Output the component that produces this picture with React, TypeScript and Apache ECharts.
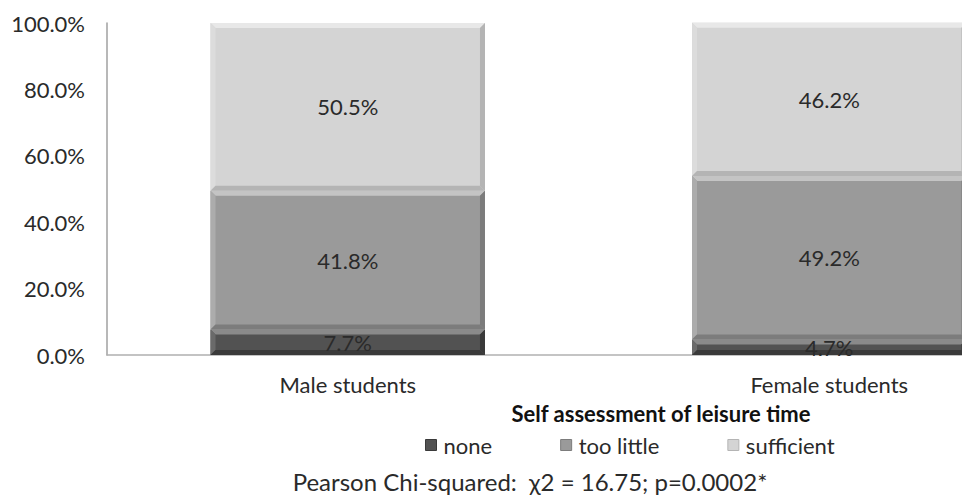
import React, { useEffect, useRef } from "react";
import * as echarts from "echarts";

// Share of students (%) by self-assessed amount of leisure time
const categories = ["Male students", "Female students"];
const seriesNames = ["none", "too little", "sufficient"];
const noneValues = [7.7, 4.7];
const tooLittleValues = [41.8, 49.2];
const sufficientValues = [50.5, 46.2];
const yTicks = [0, 20, 40, 60, 80, 100];

const axisTitle = "Self assessment of leisure time";
const footnote = "Pearson Chi-squared:  \u03c72 = 16.75; p=0.0002*";

const FONT = "Lato, 'Open Sans', sans-serif";
const FS = 22;

// body / top bevel / bottom-right bevel / left bevel shades per segment
const palette = [
  { body: "#525252", top: "#8a8a8a", dark: "#3a3a3a", left: "#6a6a6a" },
  { body: "#9a9a9a", top: "#c4c4c4", dark: "#7c7c7c", left: "#acacac" },
  { body: "#d4d4d4", top: "#e8e8e8", dark: "#b4b4b4", left: "#dcdcdc" },
];

function App() {
  const ref = useRef<HTMLDivElement>(null);

  useEffect(() => {
    if (!ref.current) return;
    const chart = echarts.init(ref.current, undefined, { renderer: "svg" });

    const valueSets = [noneValues, tooLittleValues, sufficientValues];

    // segment rows: [category index, stack start, stack end, value]
    const segmentData = valueSets.map((vals, s) =>
      vals.map((v, i) => {
        let start = 0;
        for (let k = 0; k < s; k++) start += valueSets[k][i];
        return [i, start, start + v, v];
      })
    );

    const makeRender = (s: number) => (params: any, api: any) => {
      const cat = api.value(0);
      const start = api.value(1);
      const end = api.value(2);
      const val = api.value(3);
      const p0 = api.coord([cat, start]);
      const p1 = api.coord([cat, end]);
      const bandW = api.size([1, 0])[0];
      const w = bandW * 0.57;
      const x = p0[0] - w / 2;
      const yTop = p1[1];
      const yBot = p0[1];
      const h = yBot - yTop;
      const b = Math.min(5, h / 2);
      const c = palette[s];
      return {
        type: "group",
        children: [
          {
            type: "rect",
            shape: { x, y: yTop, width: w, height: h },
            style: { fill: c.body },
          },
          {
            type: "polygon",
            shape: {
              points: [
                [x, yTop],
                [x + w, yTop],
                [x + w - b, yTop + b],
                [x + b, yTop + b],
              ],
            },
            style: { fill: c.top },
          },
          {
            type: "polygon",
            shape: {
              points: [
                [x, yTop],
                [x + b, yTop + b],
                [x + b, yBot - b],
                [x, yBot],
              ],
            },
            style: { fill: c.left },
          },
          {
            type: "polygon",
            shape: {
              points: [
                [x + w, yTop],
                [x + w, yBot],
                [x + w - b, yBot - b],
                [x + w - b, yTop + b],
              ],
            },
            style: { fill: c.dark },
          },
          {
            type: "polygon",
            shape: {
              points: [
                [x, yBot],
                [x + w, yBot],
                [x + w - b, yBot - b],
                [x + b, yBot - b],
              ],
            },
            style: { fill: c.dark },
          },
          {
            type: "text",
            x: p0[0],
            y: (yTop + yBot) / 2,
            style: {
              text: val.toFixed(1) + "%",
              fill: "#2a2a2a",
              font: `${FS}px ${FONT}`,
              align: "center",
              verticalAlign: "middle",
            },
          },
        ],
      };
    };

    chart.setOption({
      animation: false,
      textStyle: { fontFamily: FONT },
      grid: {
        left: 107,
        top: 23,
        bottom: 146,
        width: 963,
        containLabel: false,
        outerBoundsMode: "none",
      },
      xAxis: {
        type: "category",
        data: categories,
        axisLine: { lineStyle: { color: "#b0b0b0", width: 1.5 } },
        axisTick: { show: false },
        axisLabel: {
          color: "#2a2a2a",
          fontSize: FS,
          fontFamily: FONT,
          margin: 18,
        },
      },
      yAxis: {
        type: "value",
        min: yTicks[0],
        max: yTicks[yTicks.length - 1],
        interval: 20,
        axisLine: { show: true, lineStyle: { color: "#a0a0a0", width: 1.5 } },
        axisTick: { show: false },
        splitLine: { show: false },
        axisLabel: {
          color: "#2a2a2a",
          fontSize: FS,
          fontFamily: FONT,
          margin: 22,
          formatter: (v: number) => v.toFixed(1) + "%",
        },
      },
      legend: {
        left: 420,
        top: 429,
        itemWidth: 11,
        itemHeight: 11,
        itemGap: 68,
        textStyle: { fontSize: FS, color: "#2a2a2a", fontFamily: FONT, padding: [0, 0, 0, 2] },
        data: seriesNames.map((n, s) => ({
          name: n,
          icon: "rect",
          itemStyle: { color: palette[s].body, borderColor: palette[s].dark, borderWidth: 1 },
        })),
      },
      graphic: [
        {
          type: "text",
          x: 661,
          y: 413,
          style: {
            text: axisTitle,
            font: `bold ${FS}px ${FONT}`,
            fill: "#111",
            align: "center",
            verticalAlign: "middle",
          },
        },
        {
          type: "text",
          x: 530,
          y: 481,
          style: {
            text: footnote,
            font: `24px ${FONT}`,
            fill: "#2a2a2a",
            align: "center",
            verticalAlign: "middle",
          },
        },
      ],
      series: seriesNames.map((n, s) => ({
        type: "custom",
        name: n,
        itemStyle: { color: palette[s].body },
        encode: { x: 0, y: [1, 2] },
        data: segmentData[s],
        renderItem: makeRender(s),
      })),
    });

    return () => chart.dispose();
  }, []);

  return (
    <div
      ref={ref}
      style={{ position: "absolute", left: 0, top: 0, width: 962, height: 501, background: "#fff" }}
    />
  );
}

export default App;
